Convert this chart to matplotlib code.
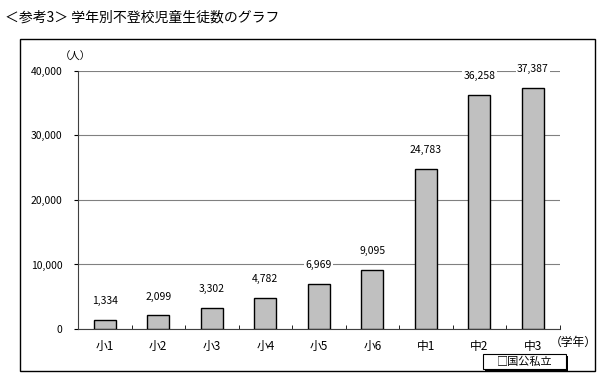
import matplotlib.pyplot as plt
from matplotlib.patches import Rectangle

plt.rcParams['font.family'] = ['Noto Sans CJK JP', 'DejaVu Sans']

grades = ["小1", "小2", "小3", "小4", "小5", "小6", "中1", "中2", "中3"]
counts = [1334, 2099, 3302, 4782, 6969, 9095, 24783, 36258, 37387]
yticks = [0, 10000, 20000, 30000, 40000]

fig = plt.figure(figsize=(6.16, 3.91), dpi=100)
ax = fig.add_axes([0.1266, 0.1586, 0.782, 0.66])

x = range(len(grades))
ax.bar(x, counts, width=0.41, color="#c0c0c0", edgecolor="black", linewidth=1, zorder=3)

for i, v in zip(x, counts):
    ax.annotate(f"{v:,}", (i, v), xytext=(0, 10), textcoords="offset points",
                ha="center", va="bottom", fontsize=7.5,
                bbox=dict(facecolor="white", edgecolor="none", pad=1), zorder=4)

ax.set_xlim(-0.5, len(grades) - 0.5)
ax.set_ylim(0, 40000)
ax.set_yticks(yticks)
ax.set_yticklabels([f"{t:,}" for t in yticks], fontsize=7.5)
ax.yaxis.grid(True, color="#808080", linewidth=0.8, zorder=0)
ax.set_xticks(list(x))
ax.set_xticklabels(grades, fontsize=8.5)
ax.tick_params(axis="x", length=0, pad=8)
ax.set_xticks([i + 0.5 for i in x], minor=True)
ax.tick_params(axis="x", which="minor", length=3, direction="in")
ax.tick_params(axis="y", length=3, direction="out", pad=8)
for s in ["top", "right"]:
    ax.spines[s].set_visible(False)
ax.spines["left"].set_color("#404040")
ax.spines["bottom"].set_color("#404040")

fig.text(0.122, 0.855, "（人）", fontsize=7.5, ha="center", va="center")
fig.text(0.93, 0.125, "（学年）", fontsize=8.5, ha="center", va="center")
fig.text(0.008, 0.955, "＜参考3＞ 学年別不登校児童生徒数のグラフ", fontsize=10, ha="left", va="center")

fig.patches.append(Rectangle((20 / 616, 1 - 371 / 391), 575 / 616, 332 / 391,
                             transform=fig.transFigure, fill=False, edgecolor="black", linewidth=1))

# legend box with shadow
lx0, ly0, lw, lh = 483 / 616, 1 - 369 / 391, 83 / 616, 15 / 391
fig.patches.append(Rectangle((lx0 + 2 / 616, ly0 - 2 / 391), lw, lh, transform=fig.transFigure,
                             facecolor="black", edgecolor="none"))
fig.patches.append(Rectangle((lx0, ly0), lw, lh, transform=fig.transFigure,
                             facecolor="white", edgecolor="black", linewidth=0.8))
fig.text(lx0 + lw / 2, ly0 + lh / 2, "□国公私立", fontsize=8, ha="center", va="center")

fig.savefig("out.png", dpi=100)
